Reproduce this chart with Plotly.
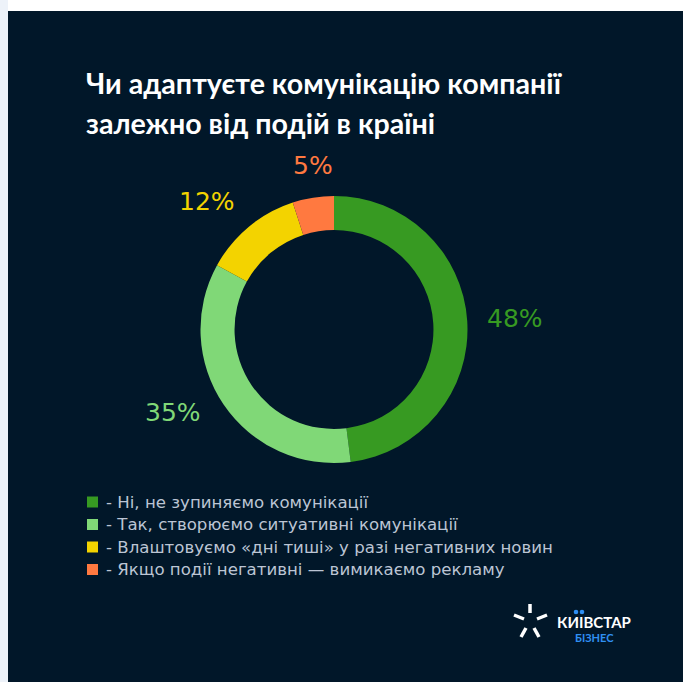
import plotly.graph_objects as go

# ---- data -------------------------------------------------------------
answers = [
    "Ні, не зупиняємо комунікації",
    "Так, створюємо ситуативні комунікації",
    "Влаштовуємо «дні тиші» у разі негативних новин",
    "Якщо події негативні — вимикаємо рекламу",
]
shares = [48, 35, 12, 5]
slice_colors = ["#379a22", "#80d877", "#f3d300", "#ff7940"]

title_lines = ["Чи адаптуєте комунікацію компанії", "залежно від подій в країні"]

# ---- canvas geometry (pixels) ----------------------------------------
W, H = 683, 682
NAVY = "#011729"
TITLE_FONT = "Lato"
BODY_FONT = "DejaVu Sans"

def fx(px):
    return px / W

def fy(py):
    return 1 - py / H

# donut placement
cx, cy, R = 334, 329.5, 133.5
hole = 0.745

# where each percentage label sits
label_pos = [(515, 318), (173, 412), (207, 202), (313, 165)]

fig = go.Figure()

fig.add_trace(go.Pie(
    labels=answers,
    values=shares,
    sort=False,
    direction="clockwise",
    rotation=0,
    hole=hole,
    marker=dict(colors=slice_colors, line=dict(width=0)),
    textinfo="none",
    hoverinfo="label+percent",
    showlegend=False,
    domain=dict(x=[fx(cx - R), fx(cx + R)], y=[fy(cy + R), fy(cy - R)]),
))

shapes = [
    # light outer frame + navy card
    dict(type="rect", xref="paper", yref="paper", x0=0, x1=fx(8), y0=0, y1=1,
         fillcolor="#edf2f9", line=dict(width=0), layer="below"),
    dict(type="rect", xref="paper", yref="paper", x0=fx(8), x1=1, y0=0, y1=fy(11),
         fillcolor=NAVY, line=dict(width=0), layer="below"),
]
annotations = []

# title
for i, line in enumerate(title_lines):
    annotations.append(dict(
        text=f"<b>{line}</b>", xref="paper", yref="paper",
        x=fx(84), y=fy(83 + 40 * i), xanchor="left", yanchor="middle",
        showarrow=False, font=dict(family=TITLE_FONT, size=28.6, color="#ffffff"),
    ))

# percentage labels
total = sum(shares)
for v, col, (lx, ly) in zip(shares, slice_colors, label_pos):
    annotations.append(dict(
        text=f"{round(100 * v / total)}%", xref="paper", yref="paper",
        x=fx(lx), y=fy(ly), xanchor="center", yanchor="middle",
        showarrow=False, font=dict(family=BODY_FONT, size=25, color=col),
    ))

# legend: colour squares with descriptions
leg_x, leg_y0, leg_dy, sq = 87, 502, 22.5, 11
for i, (name, col) in enumerate(zip(answers, slice_colors)):
    yc = leg_y0 + i * leg_dy
    shapes.append(dict(
        type="rect", xref="paper", yref="paper",
        x0=fx(leg_x), x1=fx(leg_x + sq), y0=fy(yc + sq / 2), y1=fy(yc - sq / 2),
        fillcolor=col, line=dict(width=0),
    ))
    annotations.append(dict(
        text=f"- {name}", xref="paper", yref="paper",
        x=fx(104), y=fy(yc), xanchor="left", yanchor="middle",
        showarrow=False, font=dict(family=BODY_FONT, size=16.6, color="#bcc5d4"),
    ))

# Kyivstar Business logo: five rays + wordmark
rays = [((530, 604), (530, 613)), ((514, 615), (524, 619)), ((547, 615), (537, 619)),
        ((526, 628), (521, 637)), ((534, 628), (539, 637))]
for (x0, y0), (x1, y1) in rays:
    shapes.append(dict(type="line", xref="paper", yref="paper",
                       x0=fx(x0), y0=fy(y0), x1=fx(x1), y1=fy(y1),
                       line=dict(color="#ffffff", width=3.5)))
annotations.append(dict(
    text="<b>КИІВСТАР</b>", xref="paper", yref="paper",
    x=fx(555), y=fy(622), xanchor="left", yanchor="middle",
    showarrow=False, font=dict(family=TITLE_FONT, size=15, color="#ffffff"),
))
for dx in (576, 582):
    shapes.append(dict(type="circle", xref="paper", yref="paper",
                       x0=fx(dx - 2.3), x1=fx(dx + 2.3), y0=fy(612 + 2.3), y1=fy(612 - 2.3),
                       fillcolor="#2f8ff2", line=dict(width=0)))
annotations.append(dict(
    text="<b>БІЗНЕС</b>", xref="paper", yref="paper",
    x=fx(594), y=fy(637), xanchor="center", yanchor="middle",
    showarrow=False, font=dict(family=TITLE_FONT, size=11, color="#2f8ff2"),
))

fig.update_layout(
    width=W, height=H,
    margin=dict(l=0, r=0, t=0, b=0),
    paper_bgcolor="#ffffff",
    plot_bgcolor="#ffffff",
    shapes=shapes,
    annotations=annotations,
)

fig.write_html("out.html")
